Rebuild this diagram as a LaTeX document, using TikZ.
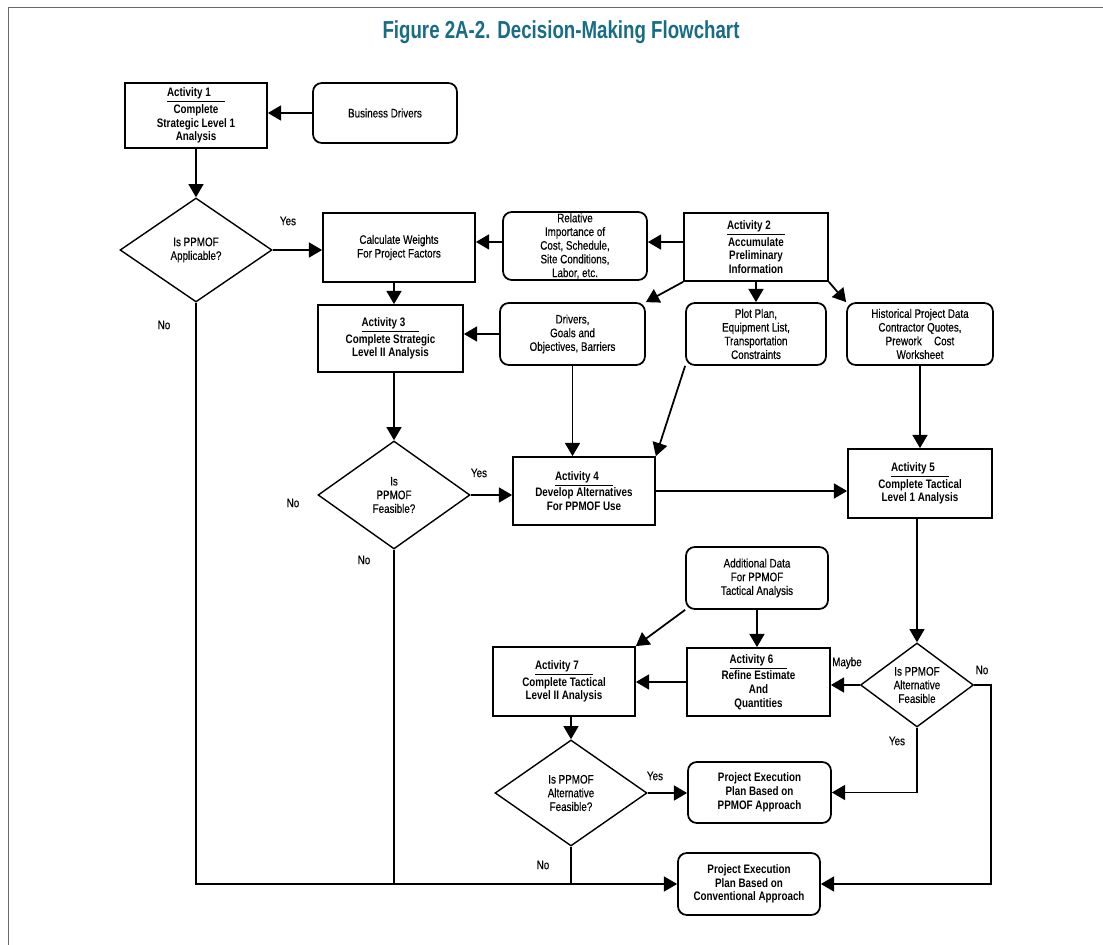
\documentclass[tikz,border=0pt]{standalone}
\usepackage{fontspec}
\newfontfamily\nf{Liberation Sans}[FakeStretch=0.8, UprightFeatures={FakeBold=0.35}]
\newfontfamily\tf{Liberation Sans}[FakeStretch=0.76]
\usetikzlibrary{shapes.geometric,arrows.meta}
\definecolor{titleteal}{RGB}{24,108,134}
\definecolor{framegray}{RGB}{105,105,105}
\begin{document}
\begin{tikzpicture}[x=0.02cm,y=-0.02cm,
  every node/.style={font=\nf\fontsize{7pt}{7.8pt}\selectfont, inner sep=0.5pt},
  wh/.style 2 args={minimum width={#1*0.02cm}, minimum height={#2*0.02cm}},
  act/.style={draw, line width=1pt, align=center, font=\nf\bfseries\fontsize{7pt}{7.8pt}\selectfont},
  pln/.style={draw, line width=1pt, align=center},
  dat/.style={draw, line width=1pt, rounded corners=5pt, align=center},
  pe/.style={draw, line width=1pt, rounded corners=5pt, align=center, font=\nf\bfseries\fontsize{7pt}{7.8pt}\selectfont},
  dia/.style={draw, shape=diamond, line width=0.8pt, inner sep=0pt, align=center},
  lbl/.style={inner sep=0pt},
  conn/.style={line width=1pt},
  arr/.style={conn, -{Triangle[length=7.5pt,width=8.5pt]}}
]
\useasboundingbox (0,0) rectangle (1103,945);
\draw[framegray, line width=1pt] (8.5,945) -- (8.5,7.5) -- (1103,7.5);

\node[font=\tf\bfseries\fontsize{14pt}{16pt}\selectfont, text=titleteal] (title) at (561,32) {Figure 2A-2. Decision-Making Flowchart};

% nodes
\node[act, wh={142}{65}] (A1) at (196,115.5) {\underline{Activity 1\hspace{8pt}}\\Complete\\Strategic Level 1\\Analysis};
\node[dat, wh={144}{60}] (BD) at (385,113) {Business Drivers};
\node[dia, wh={152}{104}, aspect=1.46] (D1) at (196,250) {Is PPMOF\\Applicable?};
\node[pln, wh={152}{69}] (CW) at (399,247.5) {Calculate Weights\\For Project Factors};
\node[dat, wh={144}{68}] (RI) at (575,246) {Relative\\Importance of\\Cost, Schedule,\\Site Conditions,\\Labor, etc.};
\node[act, wh={144}{68}] (A2) at (756,247) {\underline{Activity 2\hspace{8pt}}\\Accumulate\\Preliminary\\Information};
\node[dat, wh={145}{62}] (DG) at (572.5,334) {Drivers,\\Goals and\\Objectives, Barriers};
\node[dat, wh={140}{62}] (PP) at (756,334) {Plot Plan,\\Equipment List,\\Transportation\\Constraints};
\node[dat, wh={146}{62}] (HP) at (920,334) {Historical Project Data\\Contractor Quotes,\\Prework\quad Cost\\Worksheet};
\node[act, wh={145}{67}] (A3) at (390.5,338.5) {\underline{Activity 3\hspace{8pt}}\\Complete Strategic\\Level II Analysis};
\node[dia, wh={152}{108}, aspect=1.41] (D2) at (394,495) {Is\\PPMOF\\Feasible?};
\node[act, wh={142}{68}] (A4) at (584,491) {\underline{Activity 4\hspace{8pt}}\\Develop Alternatives\\For PPMOF Use};
\node[act, wh={144}{69}] (A5) at (920,483.5) {\underline{Activity 5\hspace{8pt}}\\Complete Tactical\\Level 1 Analysis};
\node[dia, wh={113}{84}, aspect=1.35] (D3) at (917,685) {Is PPMOF\\Alternative\\Feasible};
\node[dat, wh={142}{62}] (AD) at (757,578) {Additional Data\\For PPMOF\\Tactical Analysis};
\node[act, wh={143}{68}] (A6) at (758.5,682) {\underline{Activity 6\hspace{8pt}}\\Refine Estimate\\And\\Quantities};
\node[act, wh={142}{69}] (A7) at (564,681.5) {\underline{Activity 7\hspace{8pt}}\\Complete Tactical\\Level II Analysis};
\node[dia, wh={152}{106}, aspect=1.43] (D4) at (571,793) {Is PPMOF\\Alternative\\Feasible?};
\node[pe, wh={143}{61}] (PE1) at (759.5,792.5) {Project Execution\\Plan Based on\\PPMOF Approach};
\node[pe, wh={142}{62}] (PE2) at (749,884) {Project Execution\\Plan Based on\\Conventional Approach};

% labels
\node[lbl] (y1) at (288,221) {Yes};
\node[lbl] (n1) at (164,325) {No};
\node[lbl] (n2) at (293,503) {No};
\node[lbl] (y2) at (479,473) {Yes};
\node[lbl] (n2b) at (364,560) {No};
\node[lbl] (m3) at (847,663) {Maybe};
\node[lbl] (n3) at (982,670) {No};
\node[lbl] (y3) at (897,741) {Yes};
\node[lbl] (y4) at (655,776) {Yes};
\node[lbl] (n4) at (543,865) {No};

% connectors
\draw[arr] (BD.west) -- (BD.west -| A1.east);
\draw[arr] (A1.south) -- (D1.north);
\draw[arr] (D1.east) -- (D1.east -| CW.west);
\coordinate (riw) at ([yshift=2.3pt]RI.west);
\draw[arr] (riw) -- (riw -| CW.east);
\coordinate (a2w) at ([yshift=2.8pt]A2.west);
\draw[arr] (a2w) -- (a2w -| RI.east);
\draw[arr] (A2.south west) -- (DG.north east);
\draw[arr] (A2.south) -- (A2.south |- PP.north);
\draw[arr] (A2.south east) -- (HP.north west);
\draw[arr] (CW.south -| D2.north) -- (A3.north -| D2.north);
\draw[arr] (DG.west) -- (DG.west -| A3.east);
\draw[arr] (A3.south -| D2.north) -- (D2.north);
\draw[arr] (D2.east) -- (D2.east -| A4.west);
\draw[arr] (DG.south) -- (DG.south |- A4.north);
\draw[arr] (PP.south west) -- (A4.north east);
\draw[arr] (A4.east) -- (A4.east -| A5.west);
\draw[arr] (HP.south) -- (A5.north);
\draw[arr] (A5.south -| D3.north) -- (D3.north);
\draw[arr] (D3.west) -- (D3.west -| A6.east);
\draw[arr] (AD.south) -- (AD.south |- A6.north);
\draw[arr] (AD.south west) -- (A7.north east);
\draw[arr] (A6.west) -- (A6.west -| A7.east);
\draw[arr] (A7.south -| D4.north) -- (D4.north);
\draw[arr] (D4.east) -- (D4.east -| PE1.west);
\draw[arr] (D3.south) |- (PE1.east);
\coordinate (cr) at (991,884);
\draw[arr] (D3.east) -| (cr) -- (PE2.east);
\draw[arr] (D1.south) |- (PE2.west);
\draw[conn] (D2.south) -- (D2.south |- PE2.west);
\draw[conn] (D4.south) -- (D4.south |- PE2.west);
\end{tikzpicture}
\end{document}
